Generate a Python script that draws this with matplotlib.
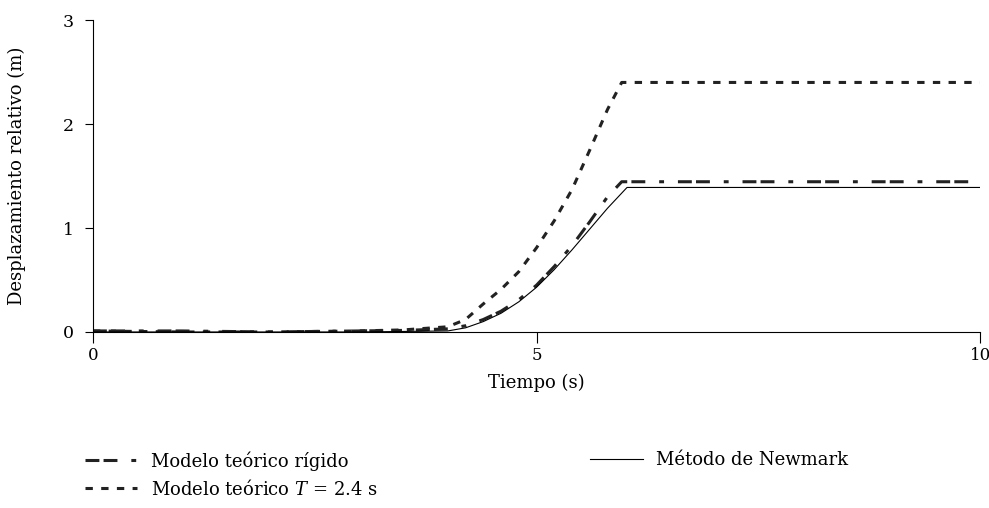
import matplotlib
matplotlib.use("Agg")
import matplotlib.pyplot as plt

plt.rcParams['font.family'] = ['DejaVu Serif']
plt.rcParams['mathtext.fontset'] = 'dejavuserif'
plt.rcParams['font.size'] = 13
plt.rcParams['lines.scale_dashes'] = False

# Desplazamiento relativo (m) vs tiempo (s)
t_rigido = [0, 1, 2, 3, 3.5, 4.0, 4.2, 4.4, 4.6, 4.8, 5.0, 5.2, 5.4, 5.6, 5.8, 5.96, 10]
d_rigido = [0.01, 0.01, 0.0, 0.01, 0.015, 0.03, 0.06, 0.12, 0.20, 0.31, 0.45, 0.63, 0.83, 1.06, 1.30, 1.445, 1.445]

t_T24 = [0, 1, 2, 3, 3.5, 4.0, 4.2, 4.4, 4.6, 4.8, 5.0, 5.2, 5.4, 5.6, 5.8, 5.96, 10]
d_T24 = [0.01, 0.0, 0.0, 0.01, 0.02, 0.05, 0.12, 0.27, 0.41, 0.58, 0.81, 1.07, 1.37, 1.75, 2.14, 2.40, 2.40]

t_newmark = [0, 1, 2, 3, 3.5, 4.0, 4.2, 4.4, 4.6, 4.8, 5.0, 5.2, 5.4, 5.6, 5.8, 6.02, 10]
d_newmark = [0.0, 0.0, 0.0, 0.0, 0.005, 0.01, 0.04, 0.10, 0.18, 0.29, 0.43, 0.60, 0.79, 0.99, 1.19, 1.39, 1.39]

fig = plt.figure(figsize=(9.89, 5.08), dpi=100)
ax = fig.add_axes([0.094, 0.3465, 0.897, 0.614])

l_rig, = ax.plot(t_rigido, d_rigido, color='#222222', lw=2.2,
                 dashes=(10, 3, 10, 10, 3.5, 10), label='Modelo teórico rígido')
l_t24, = ax.plot(t_T24, d_T24, color='#222222', lw=2.2,
                 dashes=(5.3, 6), label='Modelo teórico $T$ = 2.4 s')
l_nm, = ax.plot(t_newmark, d_newmark, color='black', lw=0.8,
                label='Método de Newmark')

ax.set_xlim(0, 10)
ax.set_ylim(0, 3)
ax.set_xticks([0, 5, 10])
ax.set_yticks([0, 1, 2, 3])
for s in ['top', 'right']:
    ax.spines[s].set_visible(False)
for s in ['left', 'bottom']:
    ax.spines[s].set_linewidth(0.8)
ax.tick_params(axis='y', direction='out', length=6, width=0.8, pad=8, labelsize=12.5)
ax.tick_params(axis='x', direction='out', length=8, width=0.8, pad=3, labelsize=12)

ax.set_xlabel('Tiempo (s)', labelpad=7)
ax.set_ylabel('Desplazamiento relativo (m)')
ax.yaxis.set_label_coords(-0.076, 0.5)

leg_kw = dict(frameon=False, handlelength=2.9, handletextpad=0.75,
              borderpad=0, borderaxespad=0, labelspacing=0.45, fontsize=13)
fig.legend(handles=[l_rig, l_t24], loc='upper left',
           bbox_to_anchor=(0.086, 0.112), **leg_kw)
fig.legend(handles=[l_nm], loc='upper left',
           bbox_to_anchor=(0.597, 0.112), **leg_kw)

fig.savefig('out.png', dpi=100)
